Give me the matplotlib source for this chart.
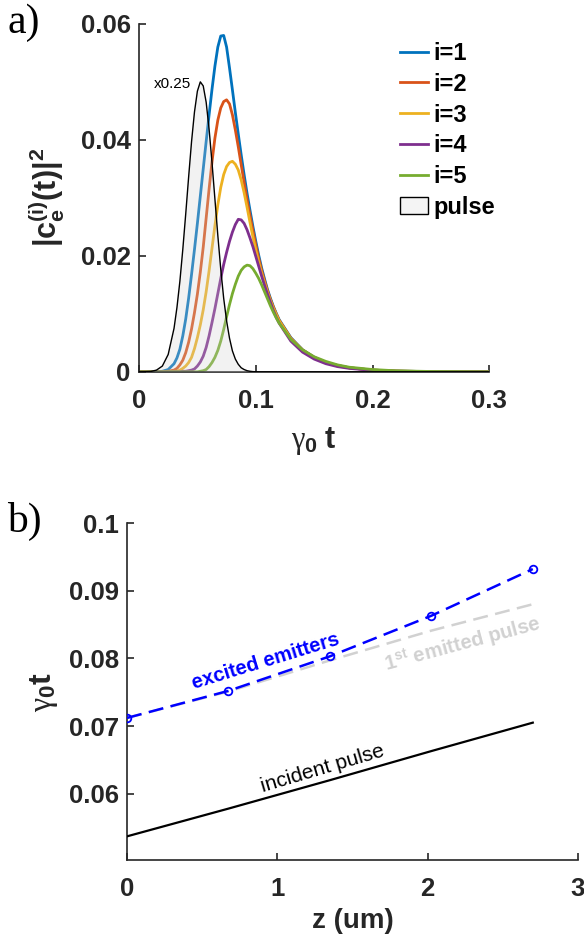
import matplotlib
matplotlib.use("Agg")
import matplotlib.pyplot as plt
import matplotlib.patches as mpatches

plt.rcParams['font.family'] = 'Liberation Sans'
plt.rcParams['font.weight'] = 'bold'
plt.rcParams['axes.labelweight'] = 'bold'
plt.rcParams['mathtext.fontset'] = 'custom'
plt.rcParams['mathtext.rm'] = 'Liberation Serif:weight=normal'
plt.rcParams['mathtext.it'] = 'Liberation Serif:italic:weight=normal'
plt.rcParams['mathtext.bf'] = 'Liberation Sans:bold'

# ---- panel a: excitation of emitters i=1..5 and the (scaled) pulse ----
t = [0, 0.005, 0.01, 0.015, 0.02, 0.025,
     0.03, 0.0325, 0.035, 0.0375, 0.04, 0.0425, 0.045, 0.0475, 0.05, 0.0525,
     0.055, 0.0575, 0.06, 0.0625, 0.065, 0.0675, 0.07, 0.0725, 0.075, 0.0775,
     0.08, 0.0825, 0.085, 0.0875, 0.09, 0.0925, 0.095, 0.0975, 0.1, 0.1025,
     0.105, 0.1075, 0.11, 0.1125, 0.115, 0.1175, 0.12,
     0.13, 0.14, 0.15, 0.16, 0.17, 0.18, 0.2, 0.22, 0.25, 0.3]

ce1 = [0, 0, 0, 0, 0.0001, 0.0004,
       0.0014, 0.0024, 0.0039, 0.0062, 0.0091, 0.0127, 0.0168, 0.0211, 0.0256, 0.0303,
       0.0350, 0.0397, 0.0443, 0.0487, 0.0527, 0.0560, 0.0579, 0.0580, 0.0560, 0.0524,
       0.0486, 0.0447, 0.0410, 0.0374, 0.0340, 0.0308, 0.0279, 0.0251, 0.0225, 0.0201,
       0.0179, 0.0160, 0.0142, 0.0127, 0.0113, 0.0101, 0.0090,
       0.0059, 0.0038, 0.0025, 0.0016, 0.0011, 0.0007, 0.0003, 0.00013, 0.00004, 0.00001]
ce2 = [0, 0, 0, 0, 0, 0.0001,
       0.0003, 0.0006, 0.0012, 0.0020, 0.0033, 0.0051, 0.0074, 0.0102, 0.0134, 0.0172,
       0.0215, 0.0265, 0.0315, 0.0362, 0.0403, 0.0434, 0.0455, 0.0466, 0.0469, 0.0462,
       0.0443, 0.0417, 0.0388, 0.0357, 0.0327, 0.0297, 0.0270, 0.0244, 0.0219, 0.0196,
       0.0175, 0.0157, 0.0140, 0.0125, 0.0112, 0.0100, 0.0089,
       0.0058, 0.0038, 0.0025, 0.0016, 0.0011, 0.0007, 0.0003, 0.00013, 0.00004, 0.00001]
ce3 = [0, 0, 0, 0, 0, 0,
       0.0001, 0.0001, 0.0003, 0.0006, 0.0010, 0.0016, 0.0025, 0.0040, 0.0059, 0.0081,
       0.0107, 0.0138, 0.0174, 0.0213, 0.0252, 0.0288, 0.0318, 0.0340, 0.0354, 0.0361,
       0.0363, 0.0358, 0.0348, 0.0331, 0.0309, 0.0284, 0.0258, 0.0233, 0.0210, 0.0189,
       0.0170, 0.0153, 0.0137, 0.0123, 0.0110, 0.0099, 0.0088,
       0.0057, 0.0037, 0.0024, 0.0016, 0.0010, 0.0007, 0.0003, 0.00012, 0.00004, 0.00001]
ce4 = [0, 0, 0, 0, 0, 0,
       0, 0, 0, 0.0001, 0.0001, 0.0002, 0.0003, 0.0005, 0.0010, 0.0017,
       0.0027, 0.0042, 0.0062, 0.0085, 0.0109, 0.0135, 0.0161, 0.0185, 0.0206, 0.0225,
       0.0241, 0.0254, 0.0263, 0.0262, 0.0256, 0.0245, 0.0231, 0.0216, 0.0199, 0.0182,
       0.0165, 0.0149, 0.0134, 0.0120, 0.0106, 0.0094, 0.0084,
       0.0053, 0.0034, 0.0022, 0.0014, 0.0009, 0.0006, 0.00025, 0.0001, 0.00003, 0]
ce5 = [0, 0, 0, 0, 0, 0,
       0, 0, 0, 0, 0, 0, 0, 0, 0, 0.0001,
       0.0002, 0.0004, 0.0009, 0.0016, 0.0025, 0.0037, 0.0053, 0.0073, 0.0095, 0.0116,
       0.0135, 0.0151, 0.0165, 0.0175, 0.0181, 0.0184, 0.0183, 0.0178, 0.0170, 0.0161,
       0.0150, 0.0138, 0.0126, 0.0114, 0.0103, 0.0093, 0.0084,
       0.0056, 0.0038, 0.0026, 0.0018, 0.0012, 0.0008, 0.0004, 0.00018, 0.00006, 0.00001]
pulse = [0, 0.00002, 0.00006, 0.0003, 0.0010, 0.0030,
         0.0075, 0.0111, 0.0156, 0.0211, 0.0272, 0.0336, 0.0397, 0.0448, 0.0484, 0.0500,
         0.0493, 0.0465, 0.0419, 0.0361, 0.0298, 0.0235, 0.0177, 0.0127, 0.0088, 0.0058,
         0.0036, 0.0022, 0.0013, 0.0007, 0.0004, 0.0002, 0.0001, 0.00004, 0.00002, 0,
         0, 0, 0, 0, 0, 0, 0,
         0, 0, 0, 0, 0, 0, 0, 0, 0, 0]
emitters = [ce1, ce2, ce3, ce4, ce5]
labels_a = ['i=1', 'i=2', 'i=3', 'i=4', 'i=5']
colors = ['#0072BD', '#D95319', '#EDB120', '#7E2F8E', '#77AC30']

# ---- panel b: arrival times vs position ----
z = [0, 0.675, 1.35, 2.025, 2.7]
t_excited = [0.0712, 0.0752, 0.0803, 0.0863, 0.0932]
t_emitted = [0.0712, 0.0751, 0.0797, 0.0841, 0.0880]
t_incident = [0.0537, 0.0578, 0.0620, 0.0663, 0.0705]

axcol = '#262626'
fig = plt.figure(figsize=(5.84, 9.39), dpi=100)
ax1 = fig.add_axes([0.238, 0.604, 0.6, 0.3706])
ax2 = fig.add_axes([0.2175, 0.0841, 0.772, 0.3589])

handles = []
for ce, lab, c in zip(emitters, labels_a, colors):
    h, = ax1.plot(t, ce, color=c, lw=2, label=lab, zorder=2)
    handles.append(h)
ax1.fill_between(t, pulse, 0, facecolor='0.82', edgecolor='none', alpha=0.28, zorder=3)
ax1.plot(t, pulse, color='k', lw=1, zorder=4)
handles.append(mpatches.Patch(facecolor='#f4f4f4', edgecolor='k', lw=1, label='pulse'))
ax1.text(0.0445, 0.0497, 'x0.25', ha='right', va='center', fontsize=11, fontweight='normal', color='k')

ax1.set_xlim(0, 0.3)
ax1.set_ylim(0, 0.06)
ax1.set_xticks([0, 0.1, 0.2, 0.3])
ax1.set_xticklabels(['0', '0.1', '0.2', '0.3'])
ax1.set_yticks([0, 0.02, 0.04, 0.06])
ax1.set_yticklabels(['0', '0.02', '0.04', '0.06'])
ax1.set_xlabel(r'$\mathrm{\gamma}_{\mathbf{0}}\ \mathbf{t}$', fontsize=22, color=axcol, labelpad=9)
ax1.set_ylabel(r'$\mathbf{|c_e^{(i)}(t)|^2}$', fontsize=22, color=axcol, labelpad=10)
ax1.legend(handles=handles, loc='upper left', bbox_to_anchor=(0.745, 0.948), frameon=False,
           borderpad=0, borderaxespad=0, handlelength=1.2, handletextpad=0.2,
           labelspacing=0.33, fontsize=17)

ax2.plot(z, t_emitted, color='0.82', lw=1.8, dashes=(6, 3), zorder=2)
ax2.plot(z, t_excited, color='b', lw=1.8, dashes=(6, 3), marker='o', ms=5.5,
         mfc='none', mec='b', mew=1.3, zorder=3)
ax2.plot(z, t_incident, color='k', lw=1.6, zorder=3)
ax2.text(0.92, 0.0796, 'excited emitters', color='b', fontsize=14.5, rotation=17,
         ha='center', va='center', rotation_mode='anchor')
ax2.text(2.235, 0.0821, r'1$^{\mathbf{st}}$ emitted pulse', color='0.82', fontsize=14.5,
         rotation=15, ha='center', va='center', rotation_mode='anchor')
ax2.text(1.3, 0.0637, 'incident pulse', color='k', fontsize=15, rotation=16.5,
         ha='center', va='center', rotation_mode='anchor', fontweight='normal')

ax2.set_xlim(0, 3)
ax2.set_ylim(0.0502, 0.1)
ax2.set_xticks([0, 1, 2, 3])
ax2.set_yticks([0.06, 0.07, 0.08, 0.09, 0.1])
ax2.set_yticklabels(['0.06', '0.07', '0.08', '0.09', '0.1'])
ax2.set_xlabel('z (um)', fontsize=20, color=axcol, labelpad=5)
ax2.set_ylabel(r'$\mathrm{\gamma}_{\mathbf{0}}\mathbf{t}$', fontsize=23, color=axcol, labelpad=6)

for ax in (ax1, ax2):
    for s in ('top', 'right'):
        ax.spines[s].set_visible(False)
    for s in ('left', 'bottom'):
        ax.spines[s].set_color(axcol)
        ax.spines[s].set_linewidth(1.2)
    ax.tick_params(direction='in', length=5, width=1.2, colors=axcol, labelsize=18.5)
    ax.tick_params(axis='x', pad=12)
    ax.tick_params(axis='y', pad=6)

fig.text(0.012, 0.996, 'a)', fontsize=30, family='Liberation Serif', fontweight='normal', va='top')
fig.text(0.012, 0.465, 'b)', fontsize=30, family='Liberation Serif', fontweight='normal', va='top')

fig.savefig('out.png', dpi=100)
